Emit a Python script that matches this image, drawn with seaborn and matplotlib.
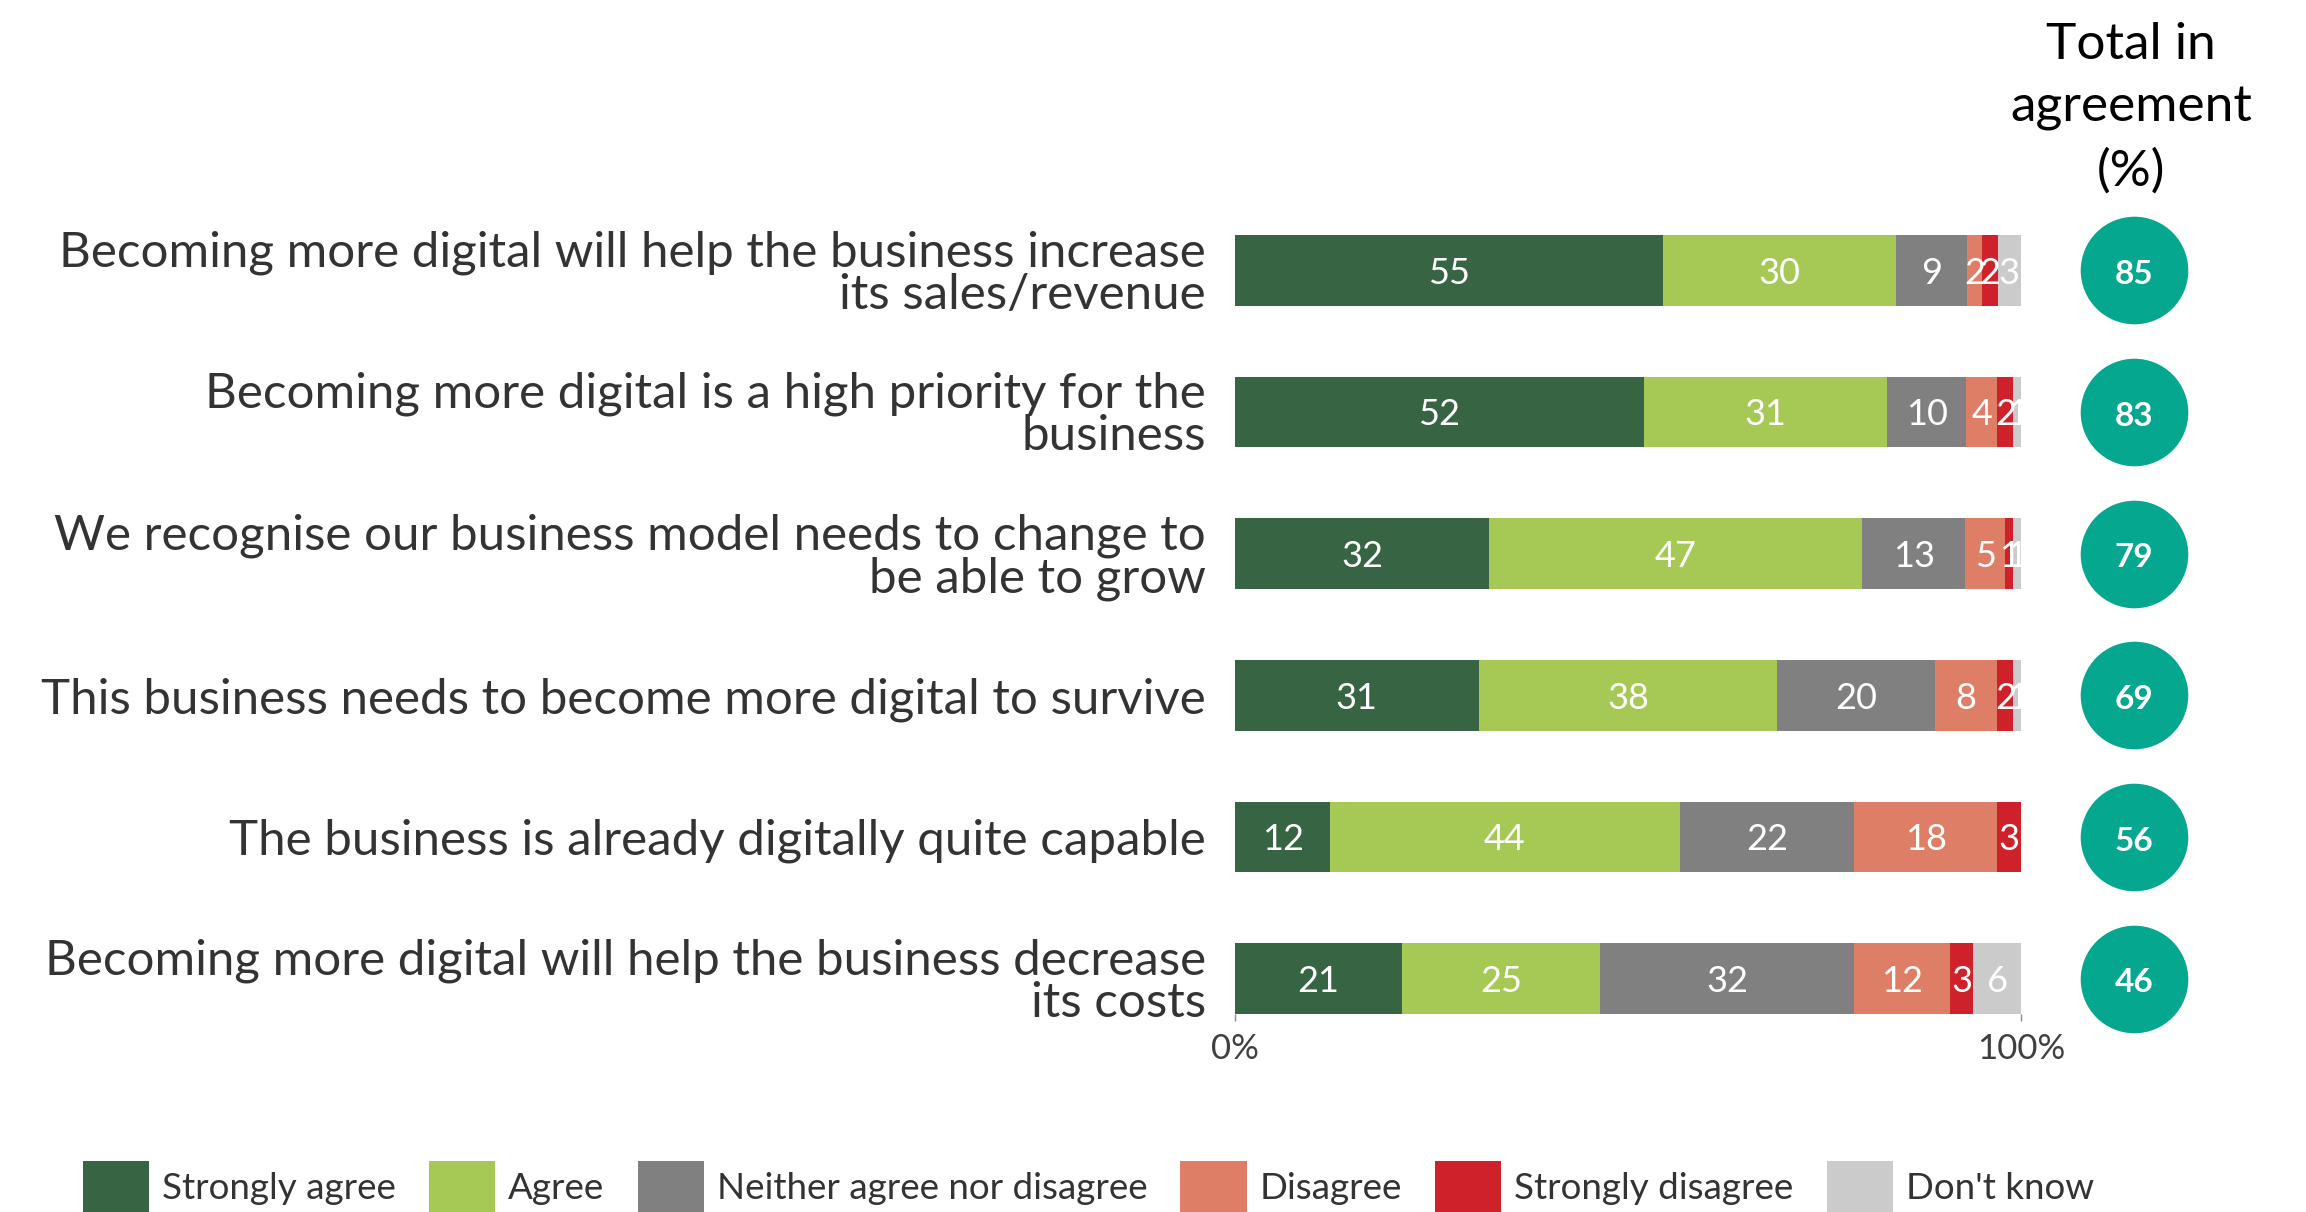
import numpy as np
import pandas as pd
import matplotlib
matplotlib.use("Agg")
import matplotlib.pyplot as plt
from matplotlib.patches import Patch
import seaborn as sns

# ---- data -------------------------------------------------------------
statements = [
    "Becoming more digital will help the business increase\nits sales/revenue",
    "Becoming more digital is a high priority for the\nbusiness",
    "We recognise our business model needs to change to\nbe able to grow",
    "This business needs to become more digital to survive",
    "The business is already digitally quite capable",
    "Becoming more digital will help the business decrease\nits costs",
]
responses = ["Strongly agree", "Agree", "Neither agree nor disagree",
             "Disagree", "Strongly disagree", "Don't know"]
strongly_agree = [55, 52, 32, 31, 12, 21]
agree = [30, 31, 47, 38, 44, 25]
neither = [9, 10, 13, 20, 22, 32]
disagree = [2, 4, 5, 8, 18, 12]
strongly_disagree = [2, 2, 1, 2, 3, 3]
dont_know = [3, 1, 1, 1, 0, 6]
total_agreement = [85, 83, 79, 69, 56, 46]
x_tick_labels = ["0%", "100%"]
header = "Total in\nagreement\n(%)"

colors = ["#376442", "#A6C956", "#808080", "#DE7E67", "#CF212A", "#CBCBCB"]
circle_color = "#06A78F"
text_dark = "#333333"

# ---- prepare 100% stacked shares --------------------------------------
counts = pd.DataFrame(
    np.column_stack([strongly_agree, agree, neither, disagree,
                     strongly_disagree, dont_know]),
    index=statements, columns=responses)
share = counts.div(counts.sum(axis=1), axis=0) * 100
cum = share.cumsum(axis=1)

sns.set_theme(style="white")
plt.rcParams["font.family"] = ["Lato", "DejaVu Sans"]

W, H = 2306, 1212
fig = plt.figure(figsize=(W / 100, H / 100), dpi=100)
ax = fig.add_axes([1235 / W, 1 - 1014 / H, 786 / W, 779 / H])

# stacked bars: draw cumulative totals from the outermost segment inward
for resp, col in reversed(list(zip(responses, colors))):
    d = pd.DataFrame({"statement": statements, "value": cum[resp].values})
    sns.barplot(data=d, x="value", y="statement", orient="h", color=col,
                saturation=1, width=0.5, linewidth=0, ax=ax,
                order=statements, errorbar=None)

# value labels in each segment
for i, stmt in enumerate(statements):
    for resp in responses:
        v = counts.loc[stmt, resp]
        if v > 0:
            xc = cum.loc[stmt, resp] - share.loc[stmt, resp] / 2
            ax.text(xc, i + 0.02, str(v), ha="center", va="center",
                    color="white", fontsize=26)

# total in agreement circles
circ = pd.DataFrame({"x": [114.4] * len(statements), "y": statements})
sns.scatterplot(data=circ, x="x", y="y", s=6000, color=circle_color,
                linewidth=0, ax=ax, clip_on=False, legend=False)
for i, t in enumerate(total_agreement):
    ax.text(114.4, i + 0.03, str(t), ha="center", va="center", color="white",
            fontsize=24, fontweight="bold", clip_on=False)

ax.set_xlim(0, 100)
ax.set_ylim(5.25, -0.25)
ax.set_xticks([0, 100])
ax.set_xticklabels(x_tick_labels)
ax.set_xlabel("")
ax.set_ylabel("")
for s in ax.spines.values():
    s.set_visible(False)
ax.tick_params(axis="x", bottom=True, length=5, width=1, color="#8c8c8c",
               labelsize=25, labelcolor="#404040", pad=9)
ax.tick_params(axis="y", left=False, length=0, pad=21,
               labelsize=35.5, labelcolor=text_dark)
for lbl in ax.get_yticklabels():
    lbl.set_linespacing(0.95)

# header above the circles
fig.text(2131 / W, 1 - 108 / H, header, ha="center", va="center",
         fontsize=37, color="black", linespacing=1.45)

# legend along the bottom
handles = [Patch(facecolor=c, edgecolor="none") for c in colors]
fig.legend(handles, responses, loc="center", bbox_to_anchor=(0.472, 1 - 1187 / H),
           ncol=6, frameon=False, fontsize=26.5, handlelength=1.8,
           handleheight=1.8, handletextpad=0.35, columnspacing=0.9,
           labelcolor=text_dark)

fig.savefig("out.png", dpi=100)
